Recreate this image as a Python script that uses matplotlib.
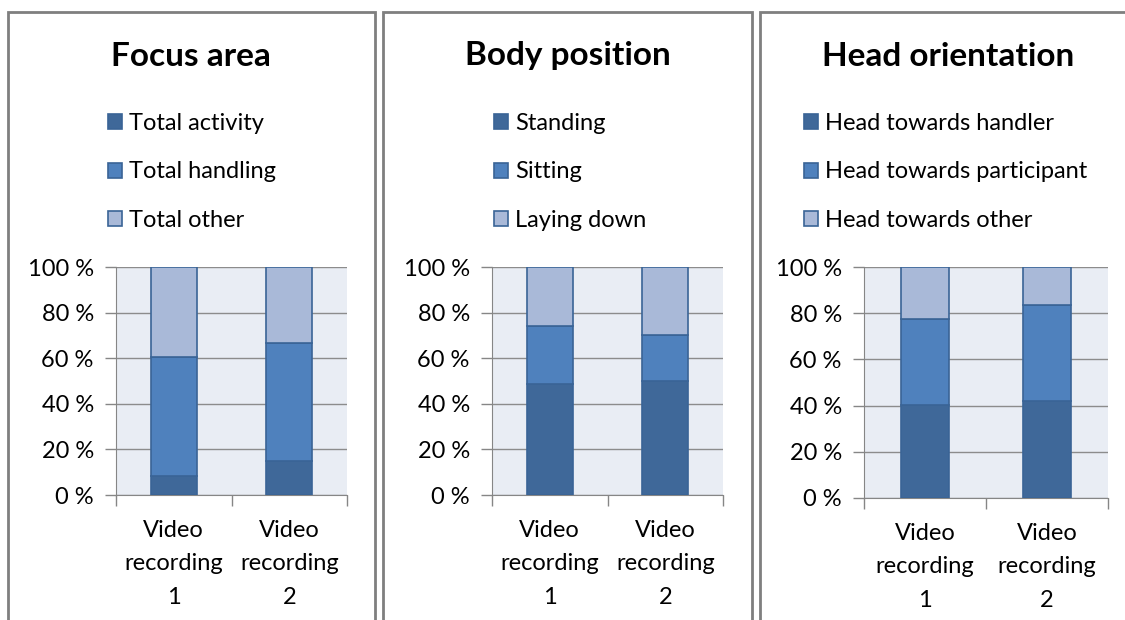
import matplotlib.pyplot as plt
from matplotlib.patches import Rectangle

plt.rcParams['font.family'] = ['Lato', 'DejaVu Sans']

recordings = ['Video\nrecording\n1', 'Video\nrecording\n2']

# percentages per recording, bottom segment first
focus_labels = ['Total activity', 'Total handling', 'Total other']
focus_activity = [8.5, 14.7]
focus_handling = [51.9, 52.0]
focus_other = [39.6, 33.3]

body_labels = ['Standing', 'Sitting', 'Laying down']
body_standing = [48.7, 50.0]
body_sitting = [25.3, 20.0]
body_laying = [26.0, 30.0]

head_labels = ['Head towards handler', 'Head towards participant', 'Head towards other']
head_handler = [40.2, 42.0]
head_participant = [37.2, 41.6]
head_other = [22.6, 16.4]

colors = ['#3F6899', '#4F81BD', '#A9B9D8']
edge = '#3A6496'
W, H = 1125, 620

fig = plt.figure(figsize=(11.25, 6.2), dpi=100)

# panel frames (left, right in px)
frames = [(8, 375), (383, 752), (760, 1140)]
for x0, x1 in frames:
    fig.patches.append(Rectangle((x0 / W, -0.1), (x1 - x0) / W, 1 - 12 / H + 0.1,
                                 transform=fig.transFigure, fill=False,
                                 edgecolor='#7F7F7F', linewidth=2))

panels = [
    ('Focus area', focus_labels, [focus_activity, focus_handling, focus_other],
     (116, 347, 267, 495), 100, 191),
    ('Body position', body_labels, [body_standing, body_sitting, body_laying],
     (492, 723, 267, 495), 486, 568),
    ('Head orientation', head_labels, [head_handler, head_participant, head_other],
     (864, 1108, 267, 498), 796, 948),
]

for title, labels, series, (l, r, t, b), leg_x, title_x in panels:
    ax = fig.add_axes([l / W, 1 - b / H, (r - l) / W, (b - t) / H])
    ax.set_facecolor('#E9EDF4')
    bottom = [0, 0]
    handles = []
    for vals, c, lab in zip(series, colors, labels):
        bars = ax.bar([0, 1], vals, width=0.4, bottom=bottom, color=c,
                      edgecolor=edge, linewidth=1.2, label=lab, zorder=3)
        handles.append(bars)
        bottom = [bo + v for bo, v in zip(bottom, vals)]
    ax.set_xlim(-0.5, 1.5)
    ax.set_ylim(0, 100)
    ax.set_yticks(range(0, 101, 20))
    ax.set_yticklabels([f'{v} %' for v in range(0, 101, 20)], fontsize=17)
    ax.set_xticks([0, 1])
    ax.set_xticklabels(recordings, fontsize=17, linespacing=1.73)
    ax.set_xticks([-0.5, 0.5, 1.5], minor=True)
    ax.tick_params(axis='x', which='major', length=0, pad=18)
    ax.tick_params(axis='x', which='minor', length=8, color='#868686', width=1)
    ax.tick_params(axis='y', length=8, color='#868686', width=1, pad=8)
    ax.grid(axis='y', color='#8C8C8C', linewidth=1, zorder=0)
    for s in ['top', 'right']:
        ax.spines[s].set_visible(False)
    for s in ['left', 'bottom']:
        ax.spines[s].set_color('#868686')
    ax.set_axisbelow(True)

    fig.text(title_x / W, 1 - 56 / H, title,
             fontsize=24, fontweight='bold', ha='center', va='center')
    fig.legend(handles=handles, loc='upper left',
               bbox_to_anchor=(leg_x / W - 0.012, 1 - 92 / H), frameon=False,
               fontsize=17, labelspacing=1.15, handlelength=0.6, handleheight=0.6,
               handletextpad=0.3)

fig.savefig('out.png', dpi=100)
